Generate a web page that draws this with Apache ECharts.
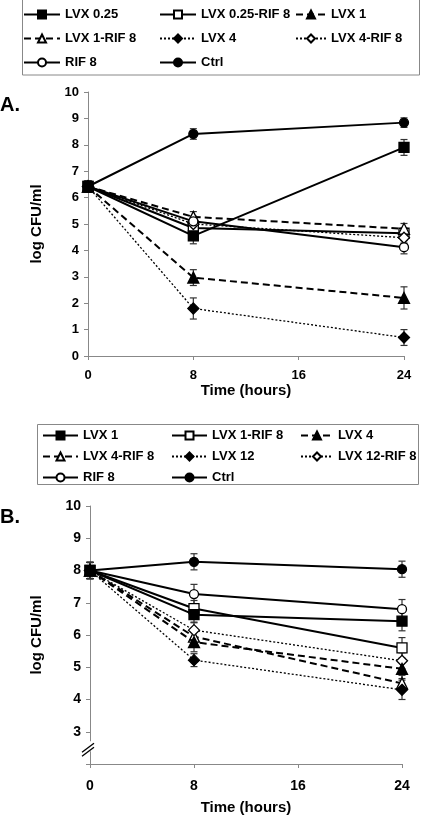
<!DOCTYPE html>
<html><head><meta charset="utf-8">
<script src="https://cdn.jsdelivr.net/npm/echarts@6/dist/echarts.min.js"></script>
<style>html,body{margin:0;padding:0;background:#fff}#c{width:425px;height:818px}</style>
</head><body><div id="c"></div><script>
const hours = [0, 8, 24];

// ---- Panel A ----
const aNames = ['LVX 0.25', 'LVX 0.25-RIF 8', 'LVX 1', 'LVX 1-RIF 8', 'LVX 4', 'LVX 4-RIF 8', 'RIF 8', 'Ctrl'];
const aLvx025 = [6.42, 4.55, 7.90];
const aLvx025Rif = [6.42, 4.85, 4.65];
const aLvx1 = [6.42, 2.97, 2.20];
const aLvx1Rif = [6.42, 5.27, 4.82];
const aLvx4 = [6.42, 1.80, 0.70];
const aLvx4Rif = [6.42, 5.00, 4.48];
const aRif8 = [6.42, 5.10, 4.12];
const aCtrl = [6.42, 8.41, 8.84];
const aLvx025Err = [0.2, 0.3, 0.3];
const aLvx025RifErr = [0.2, 0.2, 0.2];
const aLvx1Err = [0.2, 0.3, 0.42];
const aLvx1RifErr = [0.2, 0.2, 0.2];
const aLvx4Err = [0.2, 0.4, 0.3];
const aLvx4RifErr = [0.2, 0.2, 0.2];
const aRif8Err = [0.2, 0.2, 0.25];
const aCtrlErr = [0.2, 0.2, 0.18];

// ---- Panel B ----
const bNames = ['LVX 1', 'LVX 1-RIF 8', 'LVX 4', 'LVX 4-RIF 8', 'LVX 12', 'LVX 12-RIF 8', 'RIF 8', 'Ctrl'];
const bLvx1 = [8.0, 6.63, 6.43];
const bLvx1Rif = [8.0, 6.82, 5.60];
const bLvx4 = [8.0, 5.78, 4.95];
const bLvx4Rif = [8.0, 5.95, 4.50];
const bLvx12 = [8.0, 5.22, 4.30];
const bLvx12Rif = [8.0, 6.15, 5.20];
const bRif8 = [8.0, 7.27, 6.80];
const bCtrl = [8.0, 8.27, 8.04];
const bLvx1Err = [0.25, 0.25, 0.3];
const bLvx1RifErr = [0.25, 0.25, 0.32];
const bLvx4Err = [0.25, 0.3, 0.3];
const bLvx4RifErr = [0.25, 0.25, 0.25];
const bLvx12Err = [0.25, 0.2, 0.3];
const bLvx12RifErr = [0.25, 0.25, 0.25];
const bRif8Err = [0.25, 0.3, 0.3];
const bCtrlErr = [0.25, 0.25, 0.25];

const xTickLabels = ['0', '8', '16', '24'];

// styles (same order in both panels)
const styles = [
  {symbol: 'rect', filled: true, dash: 'solid', size: 10},
  {symbol: 'rect', filled: false, dash: 'solid', size: 10},
  {symbol: 'triangle', filled: true, dash: [7, 4], size: 11},
  {symbol: 'triangle', filled: false, dash: [7, 4], size: 11},
  {symbol: 'diamond', filled: true, dash: [2, 2], size: 11},
  {symbol: 'diamond', filled: false, dash: [2, 2], size: 11},
  {symbol: 'circle', filled: false, dash: 'solid', size: 9},
  {symbol: 'circle', filled: true, dash: 'solid', size: 9}
];

const aVals = [aLvx025, aLvx025Rif, aLvx1, aLvx1Rif, aLvx4, aLvx4Rif, aRif8, aCtrl];
const aErrs = [aLvx025Err, aLvx025RifErr, aLvx1Err, aLvx1RifErr, aLvx4Err, aLvx4RifErr, aRif8Err, aCtrlErr];
const bVals = [bLvx1, bLvx1Rif, bLvx4, bLvx4Rif, bLvx12, bLvx12Rif, bRif8, bCtrl];
const bErrs = [bLvx1Err, bLvx1RifErr, bLvx4Err, bLvx4RifErr, bLvx12Err, bLvx12RifErr, bRif8Err, bCtrlErr];

const FONT = 'Liberation Sans, Arial, sans-serif';

function lineSeries(prefix, names, vals, gi) {
  return names.map((n, i) => {
    const st = styles[i];
    const dotted = Array.isArray(st.dash) && st.dash[0] === 2;
    return {
      name: prefix + n,
      type: 'line',
      xAxisIndex: gi, yAxisIndex: gi,
      data: hours.map((h, k) => [h, vals[i][k]]),
      symbol: st.symbol,
      symbolSize: st.size,
      showAllSymbol: true,
      z: 3 + (st.filled ? 1 : 0),
      lineStyle: {color: '#000', width: dotted ? 1.3 : 2, type: st.dash},
      itemStyle: {color: st.filled ? '#000' : '#fff', borderColor: '#000', borderWidth: 1.3},
      emphasis: {disabled: true},
      animation: false
    };
  });
}

function errSeries(vals, errs, gi) {
  const data = [];
  vals.forEach((v, i) => hours.forEach((h, k) => data.push([h, v[k], errs[i][k]])));
  return {
    type: 'custom',
    xAxisIndex: gi, yAxisIndex: gi,
    z: 2,
    silent: true,
    animation: false,
    data: data,
    renderItem: function (params, api) {
      const x = api.value(0), y = api.value(1), e = api.value(2);
      const hi = api.coord([x, y + e]);
      const lo = api.coord([x, y - e]);
      const cw = 3.5;
      const st = {stroke: '#333', lineWidth: 1.2};
      return {type: 'group', children: [
        {type: 'line', shape: {x1: hi[0], y1: hi[1], x2: lo[0], y2: lo[1]}, style: st},
        {type: 'line', shape: {x1: hi[0] - cw, y1: hi[1], x2: hi[0] + cw, y2: hi[1]}, style: st},
        {type: 'line', shape: {x1: lo[0] - cw, y1: lo[1], x2: lo[0] + cw, y2: lo[1]}, style: st}
      ]};
    }
  };
}

function legends(prefix, names, cols, rows, widths) {
  return names.map((n, i) => ({
    data: [prefix + n],
    left: cols[i % 3],
    top: rows[Math.floor(i / 3)] - 7,
    padding: 0,
    itemWidth: widths[i % 3],
    itemHeight: 10,
    itemGap: 0,
    selectedMode: false,
    formatter: (nm) => nm.replace(/^[AB]:/, ''),
    textStyle: {fontFamily: FONT, fontWeight: 'bold', fontSize: 13, color: '#000'}
  }));
}

const axisLineStyle = {lineStyle: {color: '#888', width: 1}};
function xAxis(gi, fs, margin, nameGap) {
  return {
    type: 'value', gridIndex: gi, min: 0, max: 24, interval: 8,
    axisLine: {show: true, onZero: false, ...axisLineStyle},
    axisTick: {show: true, length: 4, lineStyle: {color: '#888'}},
    splitLine: {show: false},
    axisLabel: {fontFamily: FONT, fontWeight: 'bold', fontSize: fs, color: '#000', margin: margin,
      formatter: (v) => xTickLabels[xTickLabels.indexOf(String(v))] || ''},
    name: 'Time (hours)', nameLocation: 'middle', nameGap: nameGap,
    nameTextStyle: {fontFamily: FONT, fontWeight: 'bold', fontSize: 15, color: '#000'}
  };
}
function yAxis(gi, min, fs, nameGap, hideMin) {
  return {
    type: 'value', gridIndex: gi, min: min, max: 10, interval: 1,
    axisLine: {show: true, ...axisLineStyle},
    axisTick: {show: true, length: 4, lineStyle: {color: '#888'}},
    splitLine: {show: false},
    axisLabel: {fontFamily: FONT, fontWeight: 'bold', fontSize: fs, color: '#000', margin: 9,
      formatter: (v) => (hideMin && v === min) ? '' : String(v)},
    name: 'log CFU/ml', nameLocation: 'middle', nameGap: nameGap,
    nameTextStyle: {fontFamily: FONT, fontWeight: 'bold', fontSize: 15, color: '#000'}
  };
}

const chart = echarts.init(document.getElementById('c'), null, {renderer: 'canvas'});
const option = {
  animation: false,
  backgroundColor: '#fff',
  grid: [
    {left: 88, right: 21, top: 92, bottom: 818 - 356},
    {left: 90, right: 23, top: 506, bottom: 818 - 764}
  ],
  xAxis: [xAxis(0, 13, 13, 27), xAxis(1, 14, 15, 36)],
  yAxis: [yAxis(0, 0, 13, 44, false), yAxis(1, 2, 14, 46, true)],
  legend: [].concat(
    legends('A:', aNames, [23, 159, 295], [15, 39, 63], [36, 36, 30]),
    legends('B:', bNames, [42, 171, 300], [436, 457, 478], [35, 35, 32])
  ),
  graphic: [
    {type: 'rect', shape: {x: 22.5, y: -1, width: 397, height: 76}, style: {fill: 'none', stroke: '#888', lineWidth: 1}, z: -1},
    {type: 'rect', shape: {x: 37.5, y: 424.5, width: 381, height: 60}, style: {fill: 'none', stroke: '#888', lineWidth: 1}, z: -1},
    {type: 'text', left: 0, top: 95, style: {text: 'A.', font: 'bold 20px ' + FONT, fill: '#000'}},
    {type: 'text', left: 0, top: 507, style: {text: 'B.', font: 'bold 20px ' + FONT, fill: '#000'}}
  ],
  series: [].concat(
    errSeries(aVals, aErrs, 0),
    lineSeries('A:', aNames, aVals, 0),
    errSeries(bVals, bErrs, 1),
    lineSeries('B:', bNames, bVals, 1)
  )
};
chart.setOption(option);

// axis break mark on panel B's y axis
const p = chart.convertToPixel({gridIndex: 1}, [0, 2.55]);
chart.setOption({graphic: option.graphic.concat([
  {type: 'rect', shape: {x: p[0] - 8, y: p[1] - 5, width: 12, height: 10}, style: {fill: '#fff'}, z: 50},
  {type: 'line', shape: {x1: p[0] - 8, y1: p[1] + 6, x2: p[0] + 4, y2: p[1] - 3}, style: {stroke: '#000', lineWidth: 1.3}, z: 51},
  {type: 'line', shape: {x1: p[0] - 8, y1: p[1] + 10, x2: p[0] + 4, y2: p[1] + 1}, style: {stroke: '#000', lineWidth: 1.3}, z: 51}
])});
</script></body></html>
